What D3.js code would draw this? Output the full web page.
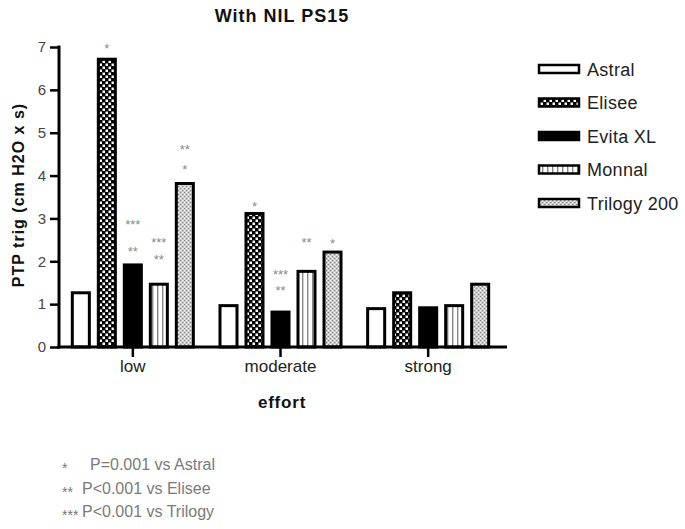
<!DOCTYPE html>
<html>
<head>
<meta charset="utf-8">
<script src="https://cdn.jsdelivr.net/npm/d3@7/dist/d3.min.js"></script>
<style>
  html, body { margin: 0; padding: 0; background: #fff; }
  svg { display: block; font-family: "Liberation Sans", Arial, sans-serif; }
</style>
</head>
<body>
<svg id="chart" width="685" height="529"></svg>
<script>
// ---- data ----
const groups = ["low", "moderate", "strong"];
const seriesNames = ["Astral", "Elisee", "Evita XL", "Monnal", "Trilogy 200"];
const astral  = [1.3, 1.0, 0.93];
const elisee  = [6.75, 3.15, 1.3];
const evita   = [1.95, 0.85, 0.95];
const monnal  = [1.5, 1.8, 1.0];
const trilogy = [3.85, 2.25, 1.5];
const yTicks = [0, 1, 2, 3, 4, 5, 6, 7];
// significance marks: group, series, label, value level
const sigGroup  = ["low", "low", "low", "low", "low", "low", "low", "moderate", "moderate", "moderate", "moderate", "moderate"];
const sigSeries = ["Elisee", "Evita XL", "Evita XL", "Monnal", "Monnal", "Trilogy 200", "Trilogy 200", "Elisee", "Evita XL", "Evita XL", "Monnal", "Trilogy 200"];
const sigLabel  = ["*", "***", "**", "***", "**", "**", "*", "*", "***", "**", "**", "*"];
const sigLevel  = [7.02, 2.92, 2.29, 2.50, 2.10, 4.67, 4.20, 3.34, 1.75, 1.38, 2.50, 2.47];
const footMarks = ["*", "**", "***"];
const footTexts = ["P=0.001 vs Astral", "P<0.001 vs Elisee", "P<0.001 vs Trilogy"];

const values = [astral, elisee, evita, monnal, trilogy];

const svg = d3.select("#chart");
const defs = svg.append("defs");

// patterns
const pE = defs.append("pattern").attr("id", "pElisee").attr("patternUnits", "userSpaceOnUse").attr("width", 6).attr("height", 6);
pE.append("rect").attr("width", 6).attr("height", 6).attr("fill", "#000");
pE.append("rect").attr("x", 0.5).attr("y", 0.5).attr("width", 2.5).attr("height", 2.5).attr("fill", "#fff");
pE.append("rect").attr("x", 3.5).attr("y", 3.5).attr("width", 2.5).attr("height", 2.5).attr("fill", "#fff");

const pM = defs.append("pattern").attr("id", "pMonnal").attr("patternUnits", "userSpaceOnUse").attr("width", 5).attr("height", 5);
pM.append("rect").attr("width", 5).attr("height", 5).attr("fill", "#fff");
pM.append("rect").attr("x", 2).attr("width", 1.4).attr("height", 5).attr("fill", "#888");

const pT = defs.append("pattern").attr("id", "pTrilogy").attr("patternUnits", "userSpaceOnUse").attr("width", 4).attr("height", 4);
pT.append("rect").attr("width", 4).attr("height", 4).attr("fill", "#d0d0d0");
pT.append("rect").attr("x", 0).attr("y", 0).attr("width", 1.2).attr("height", 1.2).attr("fill", "#888");
pT.append("rect").attr("x", 2).attr("y", 2).attr("width", 1.2).attr("height", 1.2).attr("fill", "#888");
pT.append("rect").attr("x", 2).attr("y", 0).attr("width", 1).attr("height", 1).attr("fill", "#fff");
pT.append("rect").attr("x", 0).attr("y", 2).attr("width", 1).attr("height", 1).attr("fill", "#fff");

const fills = d3.scaleOrdinal().domain(seriesNames)
  .range(["#fff", "url(#pElisee)", "#000", "url(#pMonnal)", "url(#pTrilogy)"]);

// scales
const x0 = d3.scaleBand().domain(groups).range([59, 502]).padding(0);
const x1 = d3.scaleBand().domain(seriesNames).range([-65, 65]).paddingInner(0.23).paddingOuter(0.115);
const y = d3.scaleLinear().domain([0, 7]).range([347, 47]);

const sw = 3;

// bars
const gBars = svg.append("g");
groups.forEach((g, gi) => {
  seriesNames.forEach((s, si) => {
    const v = values[si][gi];
    const cx = x0(g) + x0.bandwidth() / 2;
    gBars.append("rect")
      .attr("x", cx + x1(s) + sw / 2)
      .attr("y", y(v) + sw / 2)
      .attr("width", x1.bandwidth() - sw)
      .attr("height", y(0) - y(v) - sw / 2)
      .attr("fill", fills(s))
      .attr("stroke", "#000")
      .attr("stroke-width", sw);
  });
});

// y axis
const yAxis = svg.append("g").attr("transform", "translate(59,0)")
  .call(d3.axisLeft(y).tickValues(yTicks).tickFormat(d3.format("d")).tickSize(9).tickSizeOuter(0));
yAxis.select(".domain").attr("stroke-width", 3).attr("d", `M0,${y(7) - 1.5}V${y(0) + 1.5}`);
yAxis.selectAll(".tick line").attr("stroke-width", 2.5);
yAxis.selectAll(".tick text").attr("font-size", 15).attr("fill", "#444").attr("x", -13)
  .attr("font-family", "Liberation Sans, Arial, sans-serif");

// x axis
const xAxis = svg.append("g").attr("transform", `translate(0,${y(0)})`)
  .call(d3.axisBottom(x0).tickSize(10).tickSizeOuter(0));
xAxis.select(".domain").attr("stroke-width", 3).attr("d", "M57.5,0H507");
xAxis.selectAll(".tick line").attr("stroke-width", 2.5);
xAxis.selectAll(".tick text").attr("font-size", 17).attr("fill", "#222").attr("y", 13)
  .attr("font-family", "Liberation Sans, Arial, sans-serif");

// significance annotations
svg.append("g").selectAll("text").data(sigLabel).join("text")
  .attr("x", (d, i) => x0(sigGroup[i]) + x0.bandwidth() / 2 + x1(sigSeries[i]) + x1.bandwidth() / 2)
  .attr("y", (d, i) => y(sigLevel[i]) + 7)
  .attr("text-anchor", "middle")
  .attr("font-size", 13)
  .attr("fill", "#8a8a8a")
  .text(d => d);

// title
svg.append("text").attr("x", 282).attr("y", 22).attr("text-anchor", "middle")
  .attr("font-size", 18).attr("font-weight", "bold").attr("letter-spacing", 1).attr("fill", "#111")
  .text("With NIL PS15");

// axis titles
svg.append("text").attr("transform", "translate(24,195) rotate(-90)").attr("text-anchor", "middle")
  .attr("font-size", 16).attr("font-weight", "bold").attr("letter-spacing", 1).attr("fill", "#111")
  .text("PTP trig (cm H2O x s)");
svg.append("text").attr("x", 282).attr("y", 408).attr("text-anchor", "middle")
  .attr("font-size", 17).attr("font-weight", "bold").attr("letter-spacing", 0.8).attr("fill", "#111")
  .text("effort");

// legend
const leg = svg.append("g");
seriesNames.forEach((s, i) => {
  const ly = 69 + i * 33.5;
  leg.append("rect").attr("x", 539).attr("y", ly - 4).attr("width", 40).attr("height", 8)
    .attr("fill", fills(s)).attr("stroke", "#000").attr("stroke-width", 2.5);
  leg.append("text").attr("x", 587).attr("y", ly + 6.5).attr("font-size", 18).attr("letter-spacing", 0.3)
    .attr("fill", "#222").text(s);
});

// footnotes
const foot = svg.append("g");
footTexts.forEach((t, i) => {
  const fy = 470 + i * 23.5;
  foot.append("text").attr("x", 62).attr("y", fy + 3).attr("font-size", 14).attr("fill", "#777").text(footMarks[i]);
  foot.append("text").attr("x", i === 0 ? 90 : 82).attr("y", fy).attr("font-size", 16).attr("fill", "#7a7a7a").text(t);
});
</script>
</body>
</html>
